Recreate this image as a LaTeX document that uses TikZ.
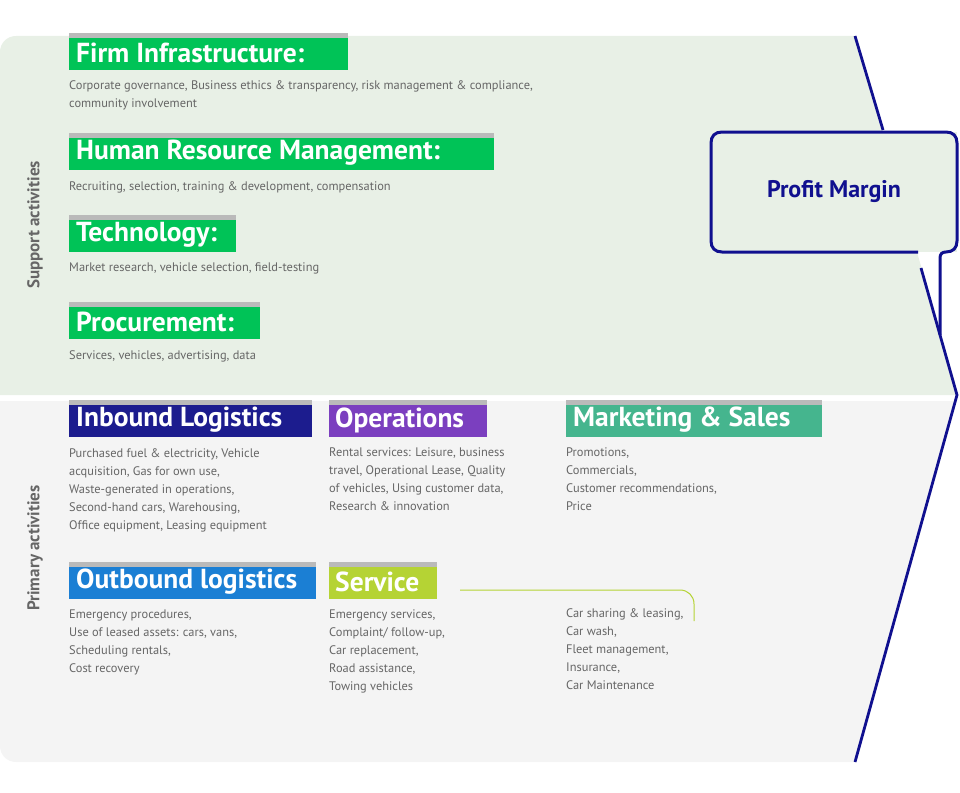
\documentclass[tikz,border=0pt]{standalone}
\usepackage{fontspec}
\setmainfont{PT Sans}
\usepackage{xcolor}
\definecolor{supbg}{HTML}{E8F0E6}
\definecolor{pribg}{HTML}{F4F4F4}
\definecolor{navyline}{HTML}{10108F}
\definecolor{hgreen}{HTML}{00C357}
\definecolor{hnavy}{HTML}{1C1C8E}
\definecolor{hpurple}{HTML}{7B3FBF}
\definecolor{hteal}{HTML}{45B58E}
\definecolor{hblue}{HTML}{1B7FD4}
\definecolor{hlime}{HTML}{B5D334}
\definecolor{bodygray}{HTML}{666666}
\tikzset{
  head/.style={anchor=west, inner sep=0pt, text=white, font=\fontsize{27.5}{30}\selectfont\bfseries},
  body/.style={anchor=north west, inner sep=0pt, align=left, text=bodygray, font=\fontsize{12.4}{18}\selectfont},
  side/.style={rotate=90, text=bodygray, font=\fontsize{17}{20}\selectfont\bfseries},
}
\newcommand{\headbox}[4]{% x1, y, x2, colour
  \fill [#4] (#1,#2+5) rectangle (#3,#2+37);
  \fill [black!27] (#1,#2) rectangle (#3,#2+5);
}
\begin{document}
\begin{tikzpicture}[x=1pt,y=1pt,yscale=-1,xscale=1]
    \useasboundingbox (0,0) rectangle (960,792);

    %Shape: support background
    \fill [supbg] (0,52) .. controls (0,43) and (7,36) .. (16,36) -- (855,36) -- (958,395) -- (0,395) -- cycle ;
    %Shape: primary background
    \fill [pribg] (0,401) -- (956,401) -- (855,762) -- (16,762) .. controls (7,762) and (0,755) .. (0,746) -- cycle ;

    %Chevron line
    \draw [navyline, line width=2.8pt] (855,36) -- (883,130) ;
    \draw [navyline, line width=2.8pt] (921,268) -- (957,395) -- (855,762) ;
    %Profit margin box
    \fill [supbg] (711,132) rectangle (957,252) ;
    \draw [navyline, line width=3pt, line join=round] (918,252) -- (722,252) .. controls (715,252) and (711,248) .. (711,241) -- (711,143) .. controls (711,136) and (715,132) .. (722,132) -- (946,132) .. controls (953,132) and (957,136) .. (957,143) -- (957,241) .. controls (957,248) and (953,252) .. (946,252) .. controls (942,252) and (940,254) .. (940,258) -- (940,335) ;
    \node (pm) at (834,192) {\textcolor{navyline}{\fontsize{24}{28}\selectfont\bfseries Profit Margin}};

    %Side labels
    \node [side] (sup) at (35,225) {Support activities};
    \node [side] (pri) at (35,548) {Primary activities};

    %Support headers
    \headbox{69}{33}{348}{hgreen}
    \node [head] (firm) at (76,53) {Firm Infrastructure:};
    \headbox{69}{133}{494}{hgreen}
    \node [head] (hrm) at (76,153) {Human Resource Management:};
    \headbox{69}{215}{236}{hgreen}
    \node [head] (tech) at (76,235) {Technology:};
    \headbox{69}{302}{260}{hgreen}
    \node [head] (proc) at (76,322) {Procurement:};

    % Text Node
    \node [body] (firmt) at (69,80) {Corporate governance, Business ethics \& transparency, risk management \& compliance,\\community involvement};
    \node [body] (hrmt) at (69,181) {Recruiting, selection, training \& development, compensation};
    \node [body] (techt) at (69,263) {Market research, vehicle selection, field-testing};
    \node [body] (proct) at (69,350) {Services, vehicles, advertising, data};

    %Primary headers
    \headbox{69}{400}{312}{hnavy}
    \node [head] (inb) at (76,420) {Inbound Logistics};
    \headbox{329}{400}{487}{hpurple}
    \node [head] (ops) at (335,420) {Operations};
    \headbox{566}{400}{822}{hteal}
    \node [head] (mkt) at (573,420) {Marketing \& Sales};
    \headbox{69}{562}{316}{hblue}
    \node [head] (outb) at (76,582) {Outbound logistics};
    \headbox{329}{562}{437}{hlime}
    \node [head] (serv) at (335,582) {Service};

    % Text Node
    \node [body] (inbt) at (69,448) {Purchased fuel \& electricity, Vehicle\\acquisition, Gas for own use,\\Waste-generated in operations,\\Second-hand cars, Warehousing,\\Office equipment, Leasing equipment};
    \node [body] (opst) at (329,448) {Rental services: Leisure, business\\travel, Operational Lease, Quality\\of vehicles, Using customer data,\\Research \& innovation};
    \node [body] (mktt) at (566,448) {Promotions,\\Commercials,\\Customer recommendations,\\Price};
    \node [body] (outbt) at (69,610) {Emergency procedures,\\Use of leased assets: cars, vans,\\Scheduling rentals,\\Cost recovery};
    \node [body] (servt) at (329,610) {Emergency services,\\Complaint/ follow-up,\\Car replacement,\\Road assistance,\\Towing vehicles};
    \node [body] (extra) at (566,608) {Car sharing \& leasing,\\Car wash,\\Fleet management,\\Insurance,\\Car Maintenance};

    %Service bracket
    \coordinate (brA) at (460,590);
    \coordinate (brB) at (694,621);
    \draw [hlime, line width=1pt] (brA) -- (680,590) .. controls (688,590) and (694,596) .. (694,604) -- (brB) ;
\end{tikzpicture}
\end{document}
